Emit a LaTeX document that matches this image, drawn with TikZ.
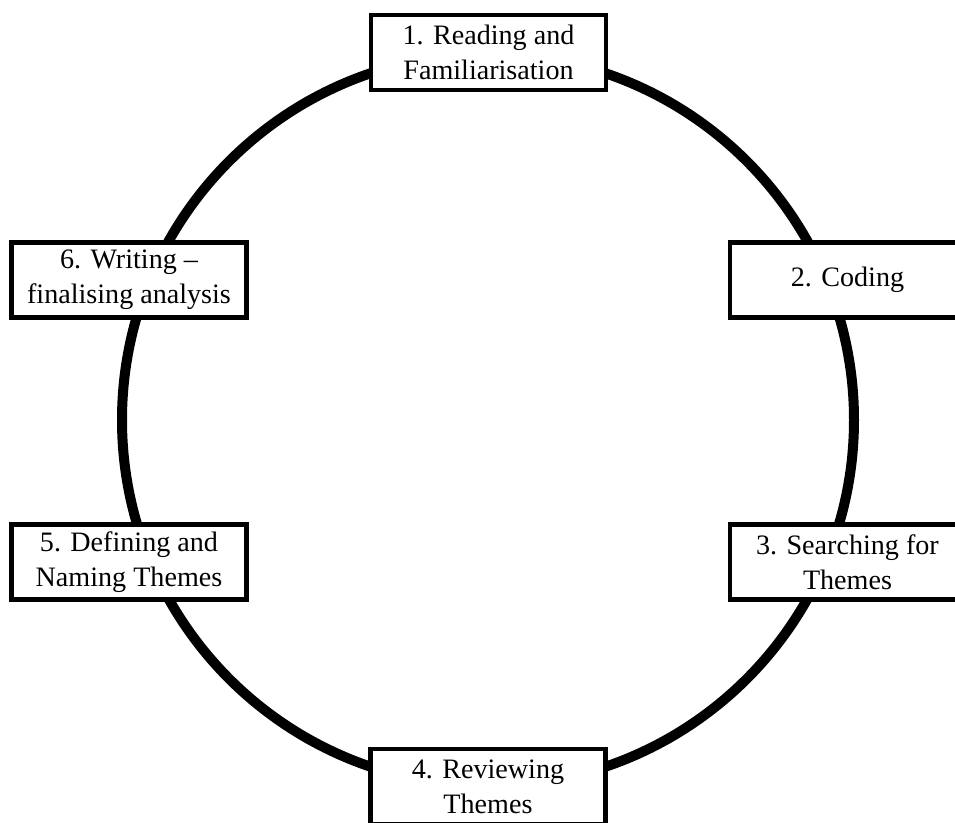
\documentclass[tikz,border=0pt]{standalone}
\usepackage{fontspec}
\setmainfont{Liberation Serif}
\usepackage{tikz}

\begin{document}
\begin{tikzpicture}[
  every node/.style={font=\fontsize{16}{19.8}\selectfont},
  phase/.style={draw,fill=white,line width=2.4pt,align=center,
    minimum width=4.7cm,minimum height=1.5cm,inner sep=0pt},
  cycle/.style={draw,circle,line width=0.2cm,minimum size=14.64cm}
]
  \useasboundingbox (0,0) rectangle (19.1,-16.46);
  \clip (0,0) rectangle (19.1,-16.46);

  \node[cycle] (loop) at (9.76,-8.4) {};

  \node[phase] (read) at (9.77,-1.05) {1. Reading and\\Familiarisation};
  \node[phase] (code) at (16.95,-5.6) {2. Coding};
  \node[phase] (search) at (16.95,-11.24) {3. Searching for\\Themes};
  \node[phase] (review) at (9.76,-15.73) {4. Reviewing\\Themes};
  \node[phase] (define) at (2.58,-11.24) {5. Defining and\\Naming Themes};
  \node[phase] (write) at (2.58,-5.6) {6. Writing --\\finalising analysis};
\end{tikzpicture}
\end{document}
